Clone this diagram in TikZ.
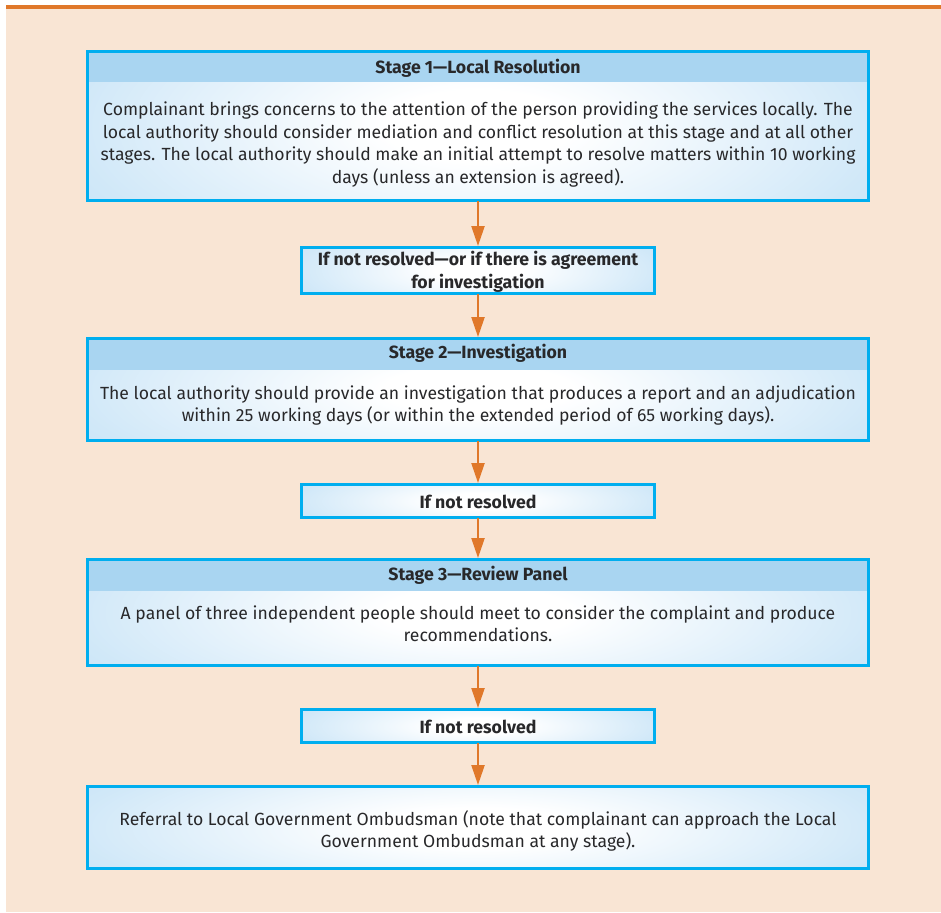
\documentclass[tikz,border=0pt]{standalone}
\usepackage{fontspec}
\setmainfont{Fira Sans}
\usepackage{xcolor}
\definecolor{peachBack}{RGB}{249,229,212}
\definecolor{orangeLine}{RGB}{224,120,42}
\definecolor{cyanBorder}{RGB}{0,174,239}
\definecolor{paleBlue}{RGB}{180,218,244}
\definecolor{headerBlue}{RGB}{169,213,241}
\definecolor{inkGrey}{RGB}{40,40,42}
\usepackage{tikz}
\usetikzlibrary{arrows.meta,calc,positioning}
\pgfdeclareradialshading{panelGlow}{\pgfpointorigin}{color(0bp)=(white);
    color(6bp)=(white); color(26bp)=(paleBlue!62!white);
    color(44bp)=(paleBlue); color(100bp)=(paleBlue)}
\tikzstyle{panel}  =[rectangle, draw=cyanBorder, line width=3pt,
                    inner sep=0pt, outer sep=0pt,
                    path picture={\shade[shading=panelGlow]
                    ($(path picture bounding box.north west)!-0.5!(path picture bounding box.south west)$)
                    rectangle
                    ($(path picture bounding box.south east)!-0.5!(path picture bounding box.north east)$);}]
\tikzstyle{stagebox}=[rectangle, draw=cyanBorder, line width=3pt,
                    inner sep=0pt, outer sep=0pt, minimum width=781pt,
                    path picture={\shade[shading=panelGlow]
                    ($(path picture bounding box.north west)!-0.5!(path picture bounding box.south west)$)
                    rectangle
                    ($(path picture bounding box.south east)!-0.5!(path picture bounding box.north east)$);
                    \fill[headerBlue]
                    (path picture bounding box.north west) rectangle
                    ([yshift=-31pt]path picture bounding box.north east);}]
\tikzstyle{askbox} =[panel, minimum width=353pt]
\tikzstyle{heading}=[font=\bfseries\fontsize{17.7}{22.5}\selectfont,
                    text=inkGrey, align=center, inner sep=0pt]
\tikzstyle{bodytext}=[font=\fontsize{17.6}{22.5}\selectfont,
                    text=inkGrey, align=center, inner sep=0pt]
\tikzstyle{flow}   =[draw=orangeLine, line width=2.3pt, shorten >=1.5pt,
                    >={Triangle[length=20pt,width=13pt]}]

\begin{document}
\begin{tikzpicture}[x=1pt,y=-1pt]

        \useasboundingbox (0,0) rectangle (941,912);
        \fill[peachBack] (6,5) rectangle (941,912);
        \fill[orangeLine] (6,5) rectangle (941,9);

        % boxes
        \node (stage1)[stagebox, minimum height=149pt] at (478,126) {};
        \node (ask1)[askbox, minimum height=46pt] at (478,270.5) {};
        \node (stage2)[stagebox, minimum height=102pt] at (478,389.5) {};
        \node (ask2)[askbox, minimum height=33pt] at (478,501) {};
        \node (stage3)[stagebox, minimum height=106pt] at (478,612.5) {};
        \node (ask3)[askbox, minimum height=33pt] at (478,726) {};
        \node (referral)[panel, minimum width=781pt, minimum height=82pt]
            at (478,827.5) {};

        \foreach \i/\j in {stage1/ask1,ask1/stage2,stage2/ask2,ask2/stage3,
        stage3/ask3,ask3/referral}
            \draw [flow,->] (\i) to (\j);

        % titles
        \node (title1)[heading] at (478,68) {Stage 1—Local Resolution};
        \node (title2)[heading] at (478,353) {Stage 2—Investigation};
        \node (title3)[heading] at (478,575) {Stage 3—Review Panel};
        \node (q1)[heading] at (478,272) {If not resolved—or if there is agreement\\
            for investigation};
        \node (q2)[heading] at (478,502) {If not resolved};
        \node (q3)[heading] at (478,727) {If not resolved};

        % texts
        \node (body1)[bodytext] at (478,144.5) {Complainant brings concerns to
            the attention of the person providing the services locally. The\\
            local authority should consider mediation and conflict resolution
            at this stage and at all other\\ stages. The local authority should
            make an initial attempt to resolve matters within 10 working\\
            days (unless an extension is agreed).};
        \node (body2)[bodytext] at (478,405.5) {The local authority should
            provide an investigation that produces a report and an adjudication\\
            within 25 working days (or within the extended period of 65
            working days).};
        \node (body3)[bodytext] at (478,623.5) {A panel of three independent
            people should meet to consider the complaint and produce\\
            recommendations.};
        \node (body4)[bodytext] at (478,831) {Referral to Local Government
            Ombudsman (note that complainant can approach the Local\\
            Government Ombudsman at any stage).};

\end{tikzpicture}
\end{document}
